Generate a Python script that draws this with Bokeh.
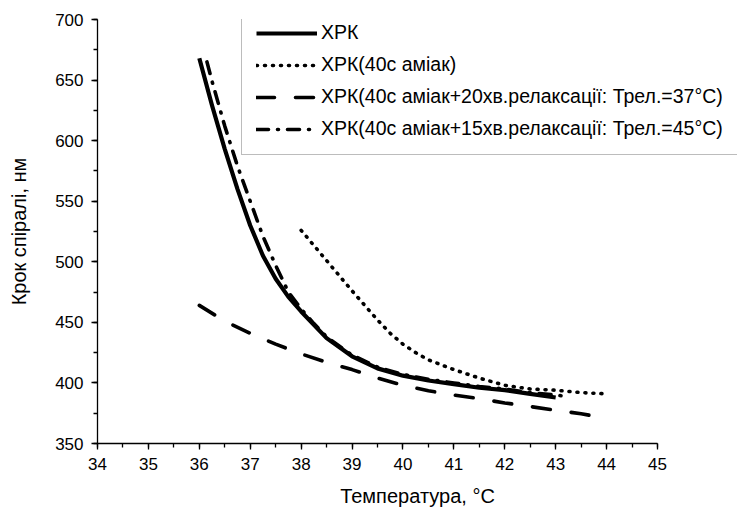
from bokeh.plotting import figure
from bokeh.models import Legend, LegendItem, Range1d, SingleIntervalTicker
from bokeh.embed import file_html
from bokeh.resources import INLINE

# ХРК
temp_xrk = [36.0, 36.25, 36.5, 36.75, 37.0, 37.25, 37.5, 37.75, 38.0, 38.5, 39.0,
            39.5, 40.0, 40.5, 41.0, 41.5, 42.0, 42.5, 43.0]
pitch_xrk = [668, 629, 593, 560, 530, 505, 486, 471, 459, 437, 422,
             412, 406, 402, 399, 396, 394, 391, 388]

# ХРК(40с аміак)
temp_amm = [38.0, 38.5, 39.0, 39.5, 39.75, 40.0, 40.25, 40.5, 40.75, 41.0, 41.5, 42.0,
            42.5, 43.0, 43.5, 44.0]
pitch_amm = [526, 501, 476, 452, 441, 432, 425, 419, 415, 411, 404, 398,
             395, 394, 392, 391]

# ХРК(40с аміак+20хв.релаксації: Трел.=37°C)
temp_r37 = [36.0, 36.5, 37.0, 37.5, 38.0, 38.5, 39.0, 39.5, 40.0, 40.5, 41.0,
            41.5, 42.0, 42.5, 43.0, 43.5, 44.0]
pitch_r37 = [464, 451, 441, 432, 424, 417, 411, 404, 398, 393.5, 390,
             387, 383.5, 380.5, 377.5, 374.5, 371]

# ХРК(40с аміак+15хв.релаксації: Трел.=45°C)
temp_r45 = [36.15, 36.25, 36.5, 36.75, 37.0, 37.25, 37.5, 37.75, 38.0, 38.25, 38.5,
            39.0, 39.5, 40.0, 40.5, 41.0, 41.5, 42.0, 42.5, 43.0, 43.2]
pitch_r45 = [665, 649, 612, 579, 550, 521, 497, 475, 461, 449, 438,
             423, 413, 407, 403, 400, 397, 395, 392, 390, 389]

labels = ["ХРК", "ХРК(40с аміак)",
          "ХРК(40с аміак+20хв.релаксації: Трел.=37°C)",
          "ХРК(40с аміак+15хв.релаксації: Трел.=45°C)"]

x_ticks_min, x_ticks_max = 34, 45

FONT = "Liberation Sans"

# frame extends to the right edge so the legend is not clipped; axis bounded at 45
x_end = x_ticks_max + 80 * (x_ticks_max - x_ticks_min) / 560

p = figure(width=737, height=513, output_backend="svg", toolbar_location=None,
           x_range=Range1d(x_ticks_min, x_end), y_range=Range1d(350, 700),
           min_border_left=97, min_border_right=0, min_border_top=19, min_border_bottom=70)
p.outline_line_color = None
p.xgrid.visible = False
p.ygrid.visible = False

r1 = p.line(temp_xrk, pitch_xrk, line_color="black", line_width=4.2, line_join="round")
r2 = p.line(temp_amm, pitch_amm, line_color="black", line_width=3.6, line_dash="1 7", line_cap="round")
r3 = p.line(temp_r37, pitch_r37, line_color="black", line_width=3.6, line_dash="18 21", line_cap="round")
r4 = p.line(temp_r45, pitch_r45, line_color="black", line_width=3.6, line_dash="12 9 1 9", line_cap="round")

for ax in (p.xaxis[0], p.yaxis[0]):
    ax.axis_line_color = "black"
    ax.axis_line_width = 1.3
    ax.major_tick_line_color = "black"
    ax.minor_tick_line_color = "black"
    ax.major_tick_line_width = 1.3
    ax.minor_tick_line_width = 1.3
    ax.major_tick_out = 6
    ax.major_tick_in = 0
    ax.minor_tick_out = 4
    ax.minor_tick_in = 0
    ax.major_label_text_font = FONT
    ax.major_label_text_font_size = "17px"
    ax.major_label_text_color = "black"
    ax.axis_label_text_font = FONT
    ax.axis_label_text_font_size = "20px"
    ax.axis_label_text_font_style = "normal"
    ax.axis_label_text_color = "black"

p.xaxis.bounds = (x_ticks_min, x_ticks_max)
p.xaxis.ticker = SingleIntervalTicker(interval=1, num_minor_ticks=2)
p.yaxis.ticker = SingleIntervalTicker(interval=50, num_minor_ticks=2)
p.xaxis.axis_label = "Температура, °C"
p.yaxis.axis_label = "Крок спіралі, нм"
p.xaxis.axis_label_standoff = 12
p.yaxis.axis_label_standoff = 22
p.xaxis.major_label_standoff = 8
p.yaxis.major_label_standoff = 8

legend = Legend(items=[LegendItem(label=l, renderers=[r]) for l, r in zip(labels, [r1, r2, r3, r4])],
                location=(144, 288))
legend.padding = 14
legend.spacing = 9
legend.margin = 0
legend.glyph_width = 61
legend.glyph_height = 20
legend.label_height = 20
legend.label_standoff = 4
legend.label_text_font = FONT
legend.label_text_font_size = "19.5px"
legend.label_text_color = "black"
legend.border_line_color = "#7a7a7a"
legend.border_line_width = 1.3
legend.background_fill_color = "white"
legend.background_fill_alpha = 1
p.add_layout(legend)

open("out.html", "w").write(file_html(p, INLINE))
